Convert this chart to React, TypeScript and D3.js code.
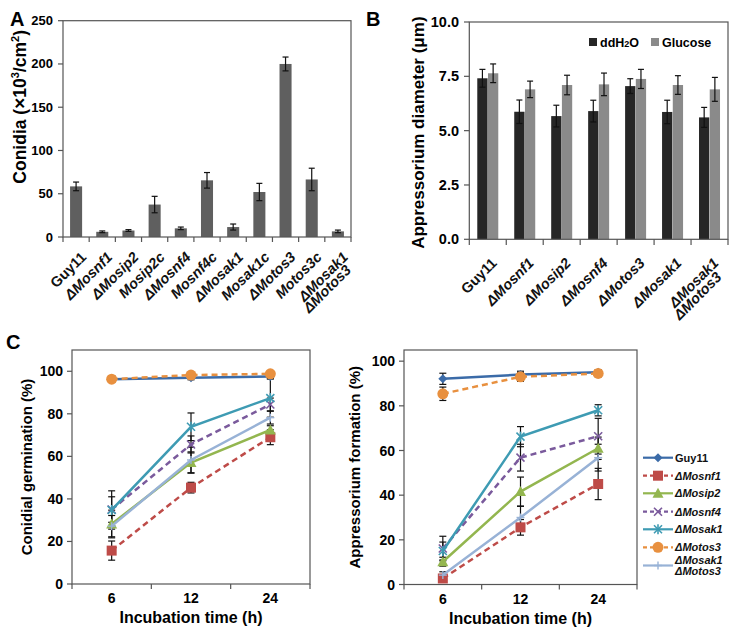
import React from 'react';
import * as d3 from 'd3';

// ---------- Data ----------
const strainsA = ['Guy11', 'ΔMosnf1', 'ΔMosip2', 'Mosip2c', 'ΔMosnf4', 'Mosnf4c', 'ΔMosak1', 'Mosak1c', 'ΔMotos3', 'Motos3c', 'ΔMosak1\nΔMotos3'];
const conidia = [58.5, 6, 7.5, 37.5, 10, 65.5, 11.5, 52, 200, 66.5, 6.5];
const conidiaErr = [5, 1, 1, 9.5, 1.5, 9, 3.5, 10, 8, 13, 1.5];
const yTicksA = [0, 50, 100, 150, 200, 250];

const strainsB = ['Guy11', 'ΔMosnf1', 'ΔMosip2', 'ΔMosnf4', 'ΔMotos3', 'ΔMosak1', 'ΔMosak1\nΔMotos3'];
const diamH2O = [7.41, 5.87, 5.67, 5.9, 7.05, 5.86, 5.61];
const diamH2OErr = [0.41, 0.54, 0.5, 0.5, 0.34, 0.54, 0.46];
const diamGlc = [7.64, 6.9, 7.1, 7.13, 7.38, 7.1, 6.9];
const diamGlcErr = [0.43, 0.38, 0.45, 0.52, 0.44, 0.43, 0.55];
const yTicksB = [0, 2.5, 5, 7.5, 10];

const times = ['6', '12', '24'];
const seriesNames = ['Guy11', 'ΔMosnf1', 'ΔMosip2', 'ΔMosnf4', 'ΔMosak1', 'ΔMotos3', 'ΔMosak1\nΔMotos3'];
const germination = [
  [96.3, 97, 97.5],
  [15.7, 45.3, 69],
  [28.2, 57.1, 72.4],
  [35, 65.6, 84.4],
  [34.8, 73.9, 87.4],
  [96.3, 98.2, 98.8],
  [27.2, 58.3, 78.2],
];
const germErr = [
  [1.5, 1, 1],
  [4.5, 2.5, 3.5],
  [6.5, 5, 2],
  [6, 4, 3],
  [9, 6.5, 9],
  [1.5, 1, 1],
  [5, 6, 3],
];
const formation = [
  [92.1, 94, 95],
  [2.7, 25.6, 45],
  [10.2, 41.6, 61],
  [16.1, 56.8, 66.4],
  [15, 66.2, 78],
  [85.4, 93, 94.5],
  [4.2, 30, 56.8],
];
const formErr = [
  [2.5, 1.5, 1],
  [1.5, 3.5, 7],
  [2, 6.5, 5],
  [5.5, 6, 8],
  [4, 4.5, 2.5],
  [3, 2, 1.5],
  [1.5, 5, 6],
];
const yTicksCL = [0, 20, 40, 60, 80, 100];
const yTicksCR = [0, 20, 40, 60, 80, 100];

// ---------- Styles ----------
const seriesColors = ['#3b6ba8', '#be4b48', '#93b64f', '#7a5a9c', '#3e9bb3', '#e8903f', '#98b2d6'];
const seriesDash = [null, '6,4', null, '6,4', null, '6,4', null];
const seriesMarker = ['diamond', 'square', 'triangle', 'x', 'star', 'circle', 'plus'];

const FONT = '"Liberation Sans", Arial, Helvetica, sans-serif';
const AX = '#555';

function isItalic(s: string) {
  return s !== 'Guy11';
}

// multi-line rotated labels: next line shifted on screen by (sx, sy)
function RotLabel({ x, y, text, size, sx, sy }: { x: number; y: number; text: string; size: number; sx: number; sy: number }) {
  const lines = text.split('\n');
  const c = Math.SQRT1_2;
  const lx = c * (sx - sy);
  const ly = c * (sx + sy);
  return (
    <text
      transform={`translate(${x},${y}) rotate(-45)`}
      textAnchor="end"
      fontFamily={FONT}
      fontWeight="bold"
      fontSize={size}
      fontStyle={isItalic(text) ? 'italic' : 'normal'}
      fill="#111"
    >
      {lines.map((l, i) => (
        <tspan key={i} x={i * lx} y={i * ly}>
          {l}
        </tspan>
      ))}
    </text>
  );
}

function ErrBar({ x, y0, y1, cap }: { x: number; y0: number; y1: number; cap: number }) {
  return (
    <g stroke="#111" strokeWidth={1.2}>
      <line x1={x} x2={x} y1={y0} y2={y1} />
      <line x1={x - cap / 2} x2={x + cap / 2} y1={y0} y2={y0} />
      <line x1={x - cap / 2} x2={x + cap / 2} y1={y1} y2={y1} />
    </g>
  );
}

function Marker({ type, x, y, color }: { type: string; x: number; y: number; color: string }) {
  switch (type) {
    case 'diamond':
      return <path d={`M${x},${y - 4.5}L${x + 4.5},${y}L${x},${y + 4.5}L${x - 4.5},${y}Z`} fill={color} />;
    case 'square':
      return <rect x={x - 5} y={y - 5} width={10} height={10} fill={color} />;
    case 'triangle':
      return <path d={`M${x},${y - 5.5}L${x + 5.5},${y + 4.5}L${x - 5.5},${y + 4.5}Z`} fill={color} />;
    case 'circle':
      return <circle cx={x} cy={y} r={5.5} fill={color} />;
    case 'x':
      return (
        <g stroke={color} strokeWidth={1.6}>
          <line x1={x - 4} x2={x + 4} y1={y - 4} y2={y + 4} />
          <line x1={x - 4} x2={x + 4} y1={y + 4} y2={y - 4} />
        </g>
      );
    case 'star':
      return (
        <g stroke={color} strokeWidth={1.6}>
          <line x1={x - 4} x2={x + 4} y1={y - 4} y2={y + 4} />
          <line x1={x - 4} x2={x + 4} y1={y + 4} y2={y - 4} />
          <line x1={x} x2={x} y1={y - 5} y2={y + 5} />
        </g>
      );
    case 'plus':
      return (
        <g stroke={color} strokeWidth={1.4}>
          <line x1={x - 4} x2={x + 4} y1={y} y2={y} />
          <line x1={x} x2={x} y1={y - 4} y2={y + 4} />
        </g>
      );
    default:
      return null;
  }
}

function Frame({ x0, x1, y0, y1 }: { x0: number; x1: number; y0: number; y1: number }) {
  return <rect x={x0} y={y0} width={x1 - x0} height={y1 - y0} fill="none" stroke={AX} strokeWidth={1.2} />;
}

function PanelA() {
  const x = d3.scaleBand<string>().domain(strainsA).range([63, 351]);
  const y = d3.scaleLinear().domain([0, 250]).range([237, 20.7]);
  const bw = x.bandwidth() * 0.46;
  const boundaries = d3.range(strainsA.length + 1).map((i) => 63 + i * x.step());
  return (
    <g>
      <text x={10} y={26} fontFamily={FONT} fontWeight="bold" fontSize={20}>A</text>
      {strainsA.map((s, i) => (
        <rect key={s} x={x(s)! + (x.bandwidth() - bw) / 2} y={y(conidia[i])} width={bw} height={y(0) - y(conidia[i])} fill="#5f5f5f" />
      ))}
      {strainsA.map((s, i) => (
        <ErrBar key={s} x={x(s)! + x.bandwidth() / 2} y0={y(conidia[i] + conidiaErr[i])} y1={y(conidia[i] - conidiaErr[i])} cap={6} />
      ))}
      <Frame x0={63} x1={351} y0={20.7} y1={237} />
      {yTicksA.map((t) => (
        <g key={t}>
          <line x1={58} x2={63} y1={y(t)} y2={y(t)} stroke={AX} strokeWidth={1.2} />
          <text x={53} y={y(t) + 4.5} textAnchor="end" fontFamily={FONT} fontWeight="bold" fontSize={13}>{t}</text>
        </g>
      ))}
      {boundaries.map((b, i) => (
        <line key={i} x1={b} x2={b} y1={237} y2={242} stroke={AX} strokeWidth={1.2} />
      ))}
      {strainsA.map((s) => (
        <RotLabel key={s} x={x(s)! + x.bandwidth() / 2 + 11} y={258} text={s} size={14.5} sx={3} sy={13} />
      ))}
      <text transform={`translate(26,${(20.7 + 237) / 2 - 22}) rotate(-90)`} textAnchor="middle" fontFamily={FONT} fontWeight="bold" fontSize={17.5}>
        Conidia (<tspan fontSize={19}>×</tspan>10<tspan fontSize={11} dy={-7}>3</tspan><tspan dy={7}>/cm</tspan><tspan fontSize={11} dy={-7}>2</tspan><tspan dy={7}>)</tspan>
      </text>
    </g>
  );
}

function PanelB() {
  const x = d3.scaleBand<string>().domain(strainsB).range([469.3, 728]);
  const y = d3.scaleLinear().domain([0, 10]).range([239.3, 22]);
  const sub = d3.scaleBand<string>().domain(['h2o', 'glc']).range([0, 21]).paddingInner(0.04);
  const boundaries = d3.range(strainsB.length + 1).map((i) => 469.3 + i * x.step());
  const groups = [
    { key: 'h2o', vals: diamH2O, errs: diamH2OErr, color: '#262626' },
    { key: 'glc', vals: diamGlc, errs: diamGlcErr, color: '#8a8a8a' },
  ];
  return (
    <g>
      <text x={366} y={26} fontFamily={FONT} fontWeight="bold" fontSize={20}>B</text>
      {strainsB.map((s, i) => {
        const cx = x(s)! + x.bandwidth() / 2;
        return groups.map((g) => {
          const bx = cx - 10.5 + sub(g.key)!;
          return (
            <g key={s + g.key}>
              <rect x={bx} y={y(g.vals[i])} width={sub.bandwidth()} height={y(0) - y(g.vals[i])} fill={g.color} />
              <ErrBar x={bx + sub.bandwidth() / 2} y0={y(g.vals[i] + g.errs[i])} y1={y(g.vals[i] - g.errs[i])} cap={6} />
            </g>
          );
        });
      })}
      <Frame x0={469.3} x1={728} y0={22} y1={239.3} />
      {yTicksB.map((t) => (
        <g key={t}>
          <line x1={464} x2={469.3} y1={y(t)} y2={y(t)} stroke={AX} strokeWidth={1.2} />
          <text x={459} y={y(t) + 5} textAnchor="end" fontFamily={FONT} fontWeight="bold" fontSize={14.5}>{t.toFixed(1)}</text>
        </g>
      ))}
      {boundaries.map((b, i) => (
        <line key={i} x1={b} x2={b} y1={239.3} y2={245} stroke={AX} strokeWidth={1.2} />
      ))}
      {strainsB.map((s) => (
        <RotLabel key={s} x={x(s)! + x.bandwidth() / 2 + 10} y={264} text={s} size={14.5} sx={3} sy={14} />
      ))}
      <text transform={`translate(424,${(22 + 239.3) / 2 + 2}) rotate(-90)`} textAnchor="middle" fontFamily={FONT} fontWeight="bold" fontSize={17}>
        Appressorium diameter (μm)
      </text>
      {/* legend */}
      <rect x={589} y={38} width={8} height={8} fill="#262626" />
      <text x={600} y={47} fontFamily={FONT} fontWeight="bold" fontSize={12.5}>
        ddH<tspan fontSize={9}>2</tspan>O
      </text>
      <rect x={651} y={38} width={8} height={8} fill="#8a8a8a" />
      <text x={662} y={47} fontFamily={FONT} fontWeight="bold" fontSize={12.5}>Glucose</text>
    </g>
  );
}

function LinePanel({
  x0, x1, y0, y1, ymax, data, errs, ticks, title, titleOff,
}: {
  x0: number; x1: number; y0: number; y1: number; ymax: number;
  data: number[][]; errs: number[][]; ticks: number[]; title: string; titleOff: number;
}) {
  const x = d3.scaleBand<string>().domain(times).range([x0, x1]);
  const y = d3.scaleLinear().domain([0, ymax]).range([y1, y0]);
  const cx = (t: string) => x(t)! + x.bandwidth() / 2;
  const line = d3.line<number>().x((_, i) => cx(times[i])).y((v) => y(v));
  const boundaries = d3.range(times.length + 1).map((i) => x0 + i * x.step());
  return (
    <g>
      <Frame x0={x0} x1={x1} y0={y0} y1={y1} />
      {data.map((s, k) =>
        s.map((v, i) => (
          <ErrBar key={k + '-' + i} x={cx(times[i])} y0={y(v + errs[k][i])} y1={y(v - errs[k][i])} cap={7} />
        ))
      )}
      {data.map((s, k) => (
        <g key={k}>
          <path d={line(s)!} fill="none" stroke={seriesColors[k]} strokeWidth={2.5} strokeDasharray={seriesDash[k] || undefined} />
          {s.map((v, i) => (
            <Marker key={i} type={seriesMarker[k]} x={cx(times[i])} y={y(v)} color={seriesColors[k]} />
          ))}
        </g>
      ))}
      {ticks.map((t) => (
        <g key={t}>
          <line x1={x0 - 5} x2={x0} y1={y(t)} y2={y(t)} stroke={AX} strokeWidth={1.2} />
          <text x={x0 - 9} y={y(t) + 5} textAnchor="end" fontFamily={FONT} fontWeight="bold" fontSize={14}>{t}</text>
        </g>
      ))}
      {boundaries.map((b, i) => (
        <line key={i} x1={b} x2={b} y1={y1} y2={y1 + 5} stroke={AX} strokeWidth={1.2} />
      ))}
      {times.map((t) => (
        <text key={t} x={cx(t)} y={y1 + 19} textAnchor="middle" fontFamily={FONT} fontWeight="bold" fontSize={14}>{t}</text>
      ))}
      <text x={(x0 + x1) / 2} y={y1 + 39} textAnchor="middle" fontFamily={FONT} fontWeight="bold" fontSize={16}>
        Incubation time (h)
      </text>
      <text transform={`translate(${x0 - titleOff},${(y0 + y1) / 2}) rotate(-90)`} textAnchor="middle" fontFamily={FONT} fontWeight="bold" fontSize={15}>
        {title}
      </text>
    </g>
  );
}

function LegendC() {
  const rows = [457.7, 475.7, 493.3, 511.7, 529.3, 547.3, 565.5];
  return (
    <g>
      {seriesNames.map((n, k) => {
        const yy = rows[k];
        const lines = n.split('\n');
        return (
          <g key={n}>
            <line x1={643} x2={673} y1={yy} y2={yy} stroke={seriesColors[k]} strokeWidth={2.2} strokeDasharray={seriesDash[k] ? '4,3' : undefined} />
            <Marker type={seriesMarker[k]} x={658} y={yy} color={seriesColors[k]} />
            <text fontFamily={FONT} fontWeight="bold" fontSize={11} fontStyle={isItalic(n) ? 'italic' : 'normal'} fill="#111">
              {lines.map((l, i) => (
                <tspan key={i} x={675} y={yy + 4 + (i - (lines.length - 1) / 2) * 11}>{l}</tspan>
              ))}
            </text>
          </g>
        );
      })}
    </g>
  );
}

export default function App() {
  return (
    <svg width={734} height={635} style={{ position: 'absolute', left: 0, top: 0, background: '#fff' }}>
      <rect width={734} height={635} fill="#fff" />
      <PanelA />
      <PanelB />
      <text x={6} y={349} fontFamily={FONT} fontWeight="bold" fontSize={20}>C</text>
      <LinePanel x0={72} x1={310} y0={350} y1={584} ymax={110} data={germination} errs={germErr} ticks={yTicksCL} title="Conidial germination (%)" titleOff={40} />
      <LinePanel x0={404} x1={637} y0={350} y1={584.5} ymax={105} data={formation} errs={formErr} ticks={yTicksCR} title="Appressorium formation (%)" titleOff={44} />
      <LegendC />
    </svg>
  );
}
